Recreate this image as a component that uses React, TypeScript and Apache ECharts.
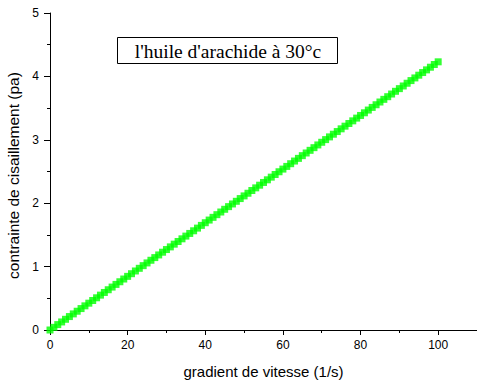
import React, { useEffect, useRef } from "react";
import * as echarts from "echarts";

// Shear rate (1/s)
const shearRate: number[] = [
  0, 1, 2, 3, 4, 5, 6, 7, 8, 9, 10, 11, 12, 13, 14, 15, 16, 17, 18, 19, 20,
  21, 22, 23, 24, 25, 26, 27, 28, 29, 30, 31, 32, 33, 34, 35, 36, 37, 38, 39, 40,
  41, 42, 43, 44, 45, 46, 47, 48, 49, 50, 51, 52, 53, 54, 55, 56, 57, 58, 59, 60,
  61, 62, 63, 64, 65, 66, 67, 68, 69, 70, 71, 72, 73, 74, 75, 76, 77, 78, 79, 80,
  81, 82, 83, 84, 85, 86, 87, 88, 89, 90, 91, 92, 93, 94, 95, 96, 97, 98, 99, 100,
];

// Shear stress (Pa)
const shearStress: number[] = [
  0, 0.042, 0.085, 0.127, 0.169, 0.212, 0.254, 0.296, 0.338, 0.381, 0.423,
  0.465, 0.508, 0.55, 0.592, 0.635, 0.677, 0.719, 0.761, 0.804, 0.846,
  0.888, 0.931, 0.973, 1.015, 1.058, 1.1, 1.142, 1.184, 1.227, 1.269,
  1.311, 1.354, 1.396, 1.438, 1.481, 1.523, 1.565, 1.607, 1.65, 1.692,
  1.734, 1.777, 1.819, 1.861, 1.904, 1.946, 1.988, 2.03, 2.073, 2.115,
  2.157, 2.2, 2.242, 2.284, 2.327, 2.369, 2.411, 2.453, 2.496, 2.538,
  2.58, 2.623, 2.665, 2.707, 2.75, 2.792, 2.834, 2.876, 2.919, 2.961,
  3.003, 3.046, 3.088, 3.13, 3.173, 3.215, 3.257, 3.299, 3.342, 3.384,
  3.426, 3.469, 3.511, 3.553, 3.596, 3.638, 3.68, 3.722, 3.765, 3.807,
  3.849, 3.892, 3.934, 3.976, 4.019, 4.061, 4.103, 4.145, 4.188, 4.23,
];

const xTicks = { min: 0, max: 110, interval: 20 };
const yTicks = { min: 0, max: 5, interval: 1 };

const seriesName = "l'huile d'arachide à 30°c";
const xTitle = "gradient de vitesse (1/s)";
const yTitle = "contrainte de cisaillement (pa)";

export default function App() {
  const ref = useRef<HTMLDivElement>(null);

  useEffect(() => {
    if (!ref.current) return;
    const chart = echarts.init(ref.current, undefined, { renderer: "svg" });
    const sans = "'Liberation Sans', Arial, sans-serif";
    const axisText = { color: "#000", fontFamily: sans, fontSize: 12 };
    chart.setOption({
      animation: false,
      backgroundColor: "#fff",
      grid: {
        left: 50,
        right: 0,
        top: 13,
        bottom: 55,
        containLabel: false,
        outerBoundsMode: "none",
      },
      xAxis: {
        type: "value",
        min: xTicks.min,
        max: xTicks.max,
        interval: xTicks.interval,
        name: xTitle,
        nameLocation: "middle",
        nameGap: 34,
        nameTextStyle: { color: "#000", fontFamily: sans, fontSize: 15 },
        axisLine: { show: true, lineStyle: { color: "#000", width: 1 } },
        axisTick: { show: true, inside: false, length: 5, lineStyle: { color: "#000" } },
        minorTick: { show: true, splitNumber: 2, length: 3, lineStyle: { color: "#000" } },
        axisLabel: {
          ...axisText,
          margin: 9,
          formatter: (v: number) => (v > 100 ? "" : String(v)),
        },
        splitLine: { show: false },
      },
      yAxis: {
        type: "value",
        min: yTicks.min,
        max: yTicks.max,
        interval: yTicks.interval,
        name: yTitle,
        nameLocation: "middle",
        nameGap: 27,
        nameTextStyle: {
          color: "#000",
          fontFamily: sans,
          fontSize: 15.5,
          padding: [0, 8, 0, 0],
        },
        axisLine: { show: true, lineStyle: { color: "#000", width: 1 } },
        axisTick: { show: true, inside: false, length: 6, lineStyle: { color: "#000" } },
        minorTick: { show: true, splitNumber: 2, length: 3, lineStyle: { color: "#000" } },
        axisLabel: { ...axisText, margin: 11 },
        splitLine: { show: false },
      },
      series: [
        {
          name: seriesName,
          type: "scatter",
          symbol: "rect",
          symbolSize: 7,
          itemStyle: { color: "#00ff00" },
          data: shearRate.map((x, i) => [x, shearStress[i]]),
        },
      ],
      graphic: [
        {
          type: "rect",
          shape: { x: 117.5, y: 37.5, width: 220, height: 26 },
          style: { fill: "#fff", stroke: "#000", lineWidth: 1 },
        },
        {
          type: "text",
          x: 228,
          y: 51,
          style: {
            text: seriesName,
            fill: "#000",
            font: "19.5px 'Liberation Serif', 'Times New Roman', serif",
            align: "center",
            verticalAlign: "middle",
          },
        },
      ],
    });
    return () => chart.dispose();
  }, []);

  return <div ref={ref} style={{ width: 477, height: 385, position: "absolute", left: 0, top: 0 }} />;
}
